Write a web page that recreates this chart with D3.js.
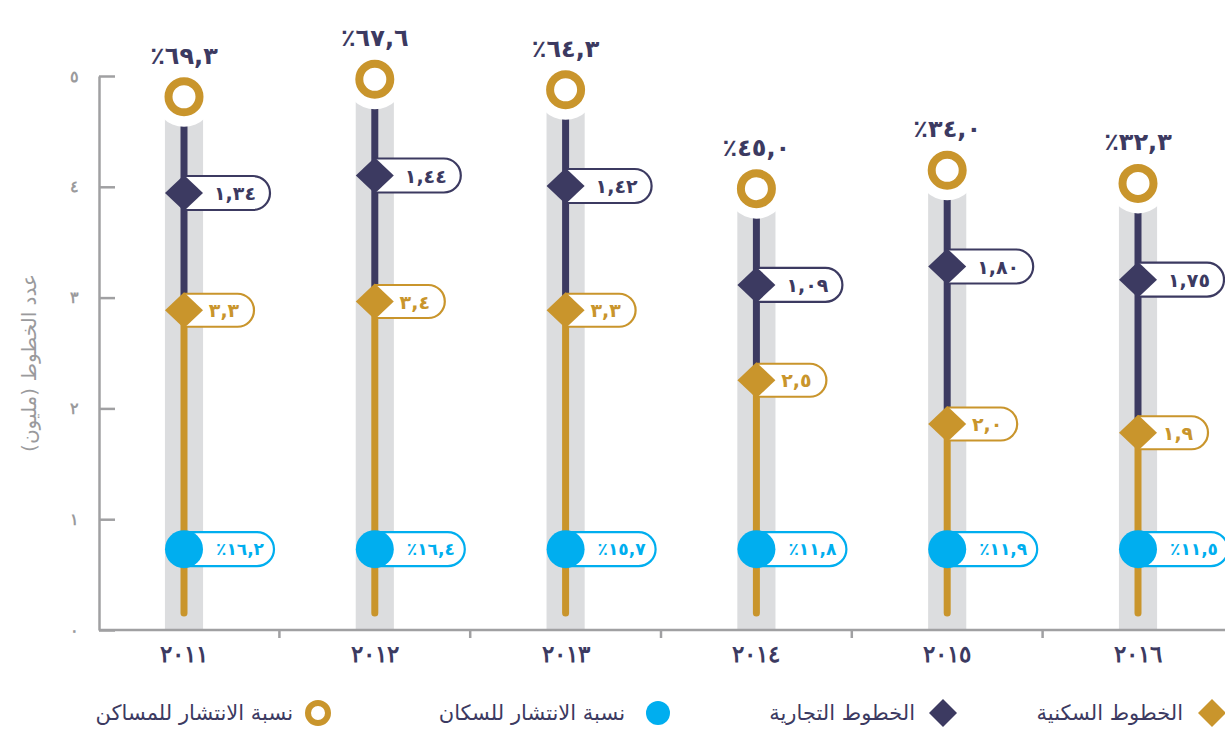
<!DOCTYPE html>
<html lang="ar">
<head>
<meta charset="utf-8">
<script src="https://cdn.jsdelivr.net/npm/d3@7"></script>
<style>
  html, body { margin: 0; padding: 0; background: #ffffff; }
  svg { display: block; font-family: "DejaVu Sans", "Noto Sans", sans-serif; }
</style>
</head>
<body>
<svg id="chart" width="1225" height="731"></svg>
<script>
// Fixed-line subscriptions (millions) and penetration rates, 2011–2016
const years = [2011, 2012, 2013, 2014, 2015, 2016];
const residentialLines = [3.3, 3.4, 3.3, 2.5, 2.0, 1.9];
const commercialLines = [1.34, 1.44, 1.42, 1.09, 1.80, 1.75];
const householdPenetration = [69.3, 67.6, 64.3, 45.0, 34.0, 32.3];
const populationPenetration = [16.2, 16.4, 15.7, 11.8, 11.9, 11.5];
const axisTicks = [0, 1, 2, 3, 4, 5];

const C = {
  gold: "#c9952c",
  navy: "#3c3a61",
  blue: "#00aeef",
  band: "#dcdddf",
  axis: "#a0a0a2",
  axisText: "#9a9a9c"
};

const arabicDigits = "٠١٢٣٤٥٦٧٨٩";
const toArabic = (v, dec) =>
  (dec == null ? String(v) : v.toFixed(dec).replace(".", ","))
    .replace(/[0-9]/g, d => arabicDigits[+d]);

const rows = years.map((y, i) => ({
  year: y,
  res: residentialLines[i],
  com: commercialLines[i],
  total: residentialLines[i] + commercialLines[i],
  hh: householdPenetration[i],
  pop: populationPenetration[i]
}));

const svg = d3.select("#chart");

// Scales
const x = d3.scaleBand().domain(years).range([88.6, 1233.4]).paddingInner(0).paddingOuter(0);
const cx = d => x(d.year) + x.bandwidth() / 2;
const yAxisScale = d3.scaleLinear().domain([0, 5]).range([630, 76]);
// stacked column scale: residential at the bottom, commercial on top of it
const yStack = d3.scaleLinear().domain([0, 5]).range([599, 161.5]);
const ringGap = 1.1;          // ring sits this far above the stacked total
const stemBase = -0.16;       // gold stem runs slightly below zero
const popLevel = 0.57;        // level of the population-penetration dots
const bandW = x.bandwidth() * 0.2;
const baseY = yAxisScale(0);

// Y axis
const yAxis = d3.axisLeft(yAxisScale)
  .tickValues(axisTicks)
  .tickSize(-16)
  .tickSizeOuter(0)
  .tickPadding(20)
  .tickFormat(d => toArabic(d));
const gy = svg.append("g").attr("transform", "translate(99,0)").call(yAxis);
gy.select(".domain").attr("stroke", C.axis).attr("stroke-width", 2.5);
gy.selectAll(".tick line").attr("stroke", C.axis).attr("stroke-width", 2.5);
gy.selectAll(".tick text")
  .attr("fill", C.axisText)
  .attr("font-size", 16)
  .attr("font-weight", "bold");

svg.append("text")
  .attr("transform", `translate(36,${(yAxisScale(0) + yAxisScale(5)) / 2 + 10}) rotate(-90)`)
  .attr("direction", "rtl")
  .attr("text-anchor", "middle")
  .attr("fill", C.axisText)
  .attr("font-size", 20)
  .text("عدد الخطوط (مليون)");

// Column backgrounds
const col = svg.append("g").selectAll("g").data(rows).join("g");

col.append("rect")
  .attr("x", d => cx(d) - bandW / 2)
  .attr("width", bandW)
  .attr("y", d => yStack(d.total + ringGap))
  .attr("height", d => baseY - yStack(d.total + ringGap))
  .attr("fill", C.band);

// X axis
const gx = svg.append("g");
gx.append("line")
  .attr("x1", 99).attr("x2", 1225)
  .attr("y1", baseY).attr("y2", baseY)
  .attr("stroke", C.axis).attr("stroke-width", 2.5);
gx.selectAll("line.tick").data(years.slice(1)).join("line")
  .attr("class", "tick")
  .attr("x1", d => x(d)).attr("x2", d => x(d))
  .attr("y1", baseY).attr("y2", baseY + 8)
  .attr("stroke", C.axis).attr("stroke-width", 2.5);
const xAxis = d3.axisBottom(x).tickSize(0).tickPadding(16).tickFormat(d => toArabic(d));
const gxl = svg.append("g").attr("transform", `translate(0,${baseY})`).call(xAxis);
gxl.select(".domain").remove();
gxl.selectAll(".tick text")
  .attr("fill", C.navy)
  .attr("font-size", 23)
  .attr("font-weight", "bold");

// Stems
col.append("line")
  .attr("x1", cx).attr("x2", cx)
  .attr("y1", d => yStack(d.total + ringGap))
  .attr("y2", d => yStack(d.res))
  .attr("stroke", C.navy).attr("stroke-width", 7);
col.append("line")
  .attr("x1", cx).attr("x2", cx)
  .attr("y1", d => yStack(d.res))
  .attr("y2", yStack(stemBase))
  .attr("stroke", C.gold).attr("stroke-width", 7)
  .attr("stroke-linecap", "round");

// Value pills: open on the marker side, rounded on the right
function pill(sel, yFn, w, h, color) {
  sel.append("path")
    .attr("d", d => {
      const x0 = cx(d), yc = yFn(d), r = h / 2, xr = x0 + w;
      return `M${x0},${yc - r} H${xr - r} A${r},${r} 0 0 1 ${xr - r},${yc + r} H${x0}`;
    })
    .attr("fill", "#fff")
    .attr("stroke", color)
    .attr("stroke-width", 2.2);
}
pill(col, d => yStack(d.total), 86, 34, C.navy);
pill(col, d => yStack(d.res), 70, 33, C.gold);
pill(col, () => yStack(popLevel), 90, 34, C.blue);

// Markers
const diamond = (d, yc, hw, hh) =>
  `M${cx(d) - hw},${yc} L${cx(d)},${yc - hh} L${cx(d) + hw},${yc} L${cx(d)},${yc + hh} Z`;

col.append("path")
  .attr("d", d => diamond(d, yStack(d.total), 19, 18))
  .attr("fill", C.navy);
col.append("path")
  .attr("d", d => diamond(d, yStack(d.res), 19, 18))
  .attr("fill", C.gold);
col.append("circle")
  .attr("cx", cx).attr("cy", yStack(popLevel)).attr("r", 19)
  .attr("fill", C.blue);

// Household-penetration rings with white halo
col.append("circle")
  .attr("cx", cx).attr("cy", d => yStack(d.total + ringGap)).attr("r", 30)
  .attr("fill", "#fff");
col.append("circle")
  .attr("cx", cx).attr("cy", d => yStack(d.total + ringGap)).attr("r", 15.5)
  .attr("fill", "#fff")
  .attr("stroke", C.gold).attr("stroke-width", 8);

// Labels
const numStyle = (s, color, size) => s
  .attr("fill", color)
  .attr("font-size", size)
  .attr("font-weight", "bold")
  .attr("direction", "ltr")
  .attr("dominant-baseline", "central");

numStyle(col.append("text"), C.navy, 24)
  .attr("x", cx)
  .attr("y", d => yStack(d.total + ringGap) - 41)
  .attr("text-anchor", "middle")
  .text(d => "٪" + toArabic(d.hh, 1));

numStyle(col.append("text"), C.navy, 19)
  .attr("x", d => cx(d) + 51)
  .attr("y", d => yStack(d.total))
  .attr("text-anchor", "middle")
  .text(d => toArabic(d.com, 2));

numStyle(col.append("text"), C.gold, 19)
  .attr("x", d => cx(d) + 40)
  .attr("y", d => yStack(d.res))
  .attr("text-anchor", "middle")
  .text(d => toArabic(d.res, 1));

numStyle(col.append("text"), C.blue, 17)
  .attr("x", d => cx(d) + 56)
  .attr("y", yStack(popLevel))
  .attr("text-anchor", "middle")
  .attr("letter-spacing", 1)
  .text(d => "٪" + toArabic(d.pop, 1));

// Legend
const legendY = 713;
const legendItems = [
  { label: "الخطوط السكنية", mx: 1212, tx: 1183, kind: "diamond", color: C.gold },
  { label: "الخطوط التجارية", mx: 943, tx: 915, kind: "diamond", color: C.navy },
  { label: "نسبة الانتشار للسكان", mx: 658, tx: 625, kind: "dot", color: C.blue },
  { label: "نسبة الانتشار للمساكن", mx: 318, tx: 293, kind: "ring", color: C.gold }
];
const lg = svg.append("g").selectAll("g").data(legendItems).join("g");
lg.each(function (d) {
  const g = d3.select(this);
  if (d.kind === "diamond") {
    g.append("path")
      .attr("d", `M${d.mx - 14},${legendY} L${d.mx},${legendY - 14} L${d.mx + 14},${legendY} L${d.mx},${legendY + 14} Z`)
      .attr("fill", d.color);
  } else if (d.kind === "dot") {
    g.append("circle").attr("cx", d.mx).attr("cy", legendY).attr("r", 12).attr("fill", d.color);
  } else {
    g.append("circle").attr("cx", d.mx).attr("cy", legendY).attr("r", 10)
      .attr("fill", "#fff").attr("stroke", d.color).attr("stroke-width", 6);
  }
  g.append("text")
    .attr("x", d.tx)
    .attr("y", legendY)
    .attr("direction", "rtl")
    .attr("text-anchor", "start")
    .attr("dominant-baseline", "central")
    .attr("fill", C.navy)
    .attr("font-size", 21)
    .text(d.label);
});
</script>
</body>
</html>
